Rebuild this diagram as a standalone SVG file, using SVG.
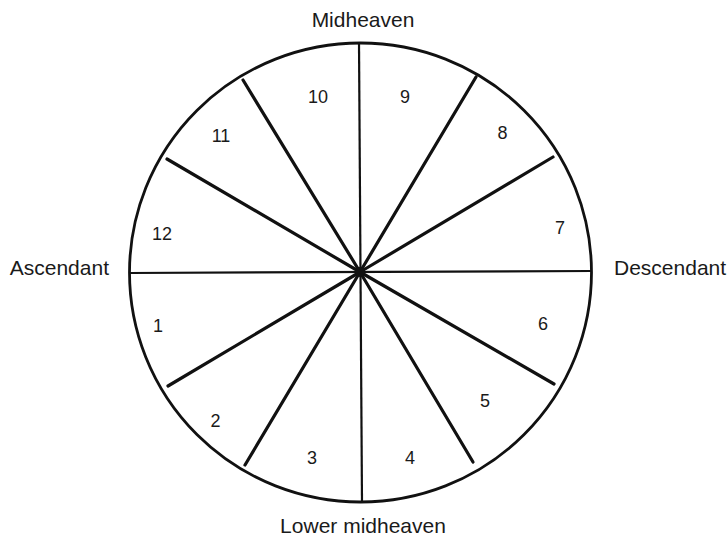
<svg xmlns="http://www.w3.org/2000/svg" width="728" height="536" viewBox="0 0 728 536">
<style>
.lbl{font-family:"Liberation Sans",Arial,sans-serif;font-size:21px;fill:#1a1a1a}
.num{font-family:"Liberation Sans",Arial,sans-serif;font-size:18px;fill:#1a1a1a;text-anchor:middle}
.spoke{stroke:#111;stroke-width:3.2;stroke-linecap:round;fill:none}
.axis{stroke:#111;stroke-width:2.2;fill:none}
</style>
<rect width="728" height="536" fill="#fff"/>
<g id="wheel">
<ellipse cx="360.5" cy="272.5" rx="231" ry="229.5" fill="none" stroke="#111" stroke-width="2.8"/>
</g>
<g id="connectors">
<line class="axis" x1="359" y1="43" x2="362" y2="502"/>
<line class="axis" x1="129" y1="273" x2="592" y2="271"/>
<line class="spoke" x1="360" y1="272" x2="243" y2="80"/>
<line class="spoke" x1="360" y1="272" x2="476" y2="77"/>
<line class="spoke" x1="360" y1="272" x2="167" y2="159"/>
<line class="spoke" x1="360" y1="272" x2="553" y2="157"/>
<line class="spoke" x1="360" y1="272" x2="168" y2="386"/>
<line class="spoke" x1="360" y1="272" x2="554" y2="384"/>
<line class="spoke" x1="360" y1="272" x2="245" y2="465"/>
<line class="spoke" x1="360" y1="272" x2="473" y2="462"/>
<circle cx="360" cy="272" r="5" fill="#111"/>
</g>
<g id="axis-labels">
<text class="lbl" x="363" y="27" text-anchor="middle">Midheaven</text>
<text class="lbl" x="109" y="275" text-anchor="end">Ascendant</text>
<text class="lbl" x="614" y="275">Descendant</text>
<text class="lbl" x="363" y="533" text-anchor="middle">Lower midheaven</text>
</g>
<g id="houses">
<text class="num" x="158" y="332">1</text>
<text class="num" x="215.5" y="427">2</text>
<text class="num" x="312" y="464">3</text>
<text class="num" x="410" y="464">4</text>
<text class="num" x="485" y="407">5</text>
<text class="num" x="543" y="330">6</text>
<text class="num" x="560" y="234">7</text>
<text class="num" x="502.5" y="139">8</text>
<text class="num" x="405" y="103">9</text>
<text class="num" x="318" y="103">10</text>
<text class="num" x="221" y="142">11</text>
<text class="num" x="162" y="240">12</text>
</g>
</svg>
